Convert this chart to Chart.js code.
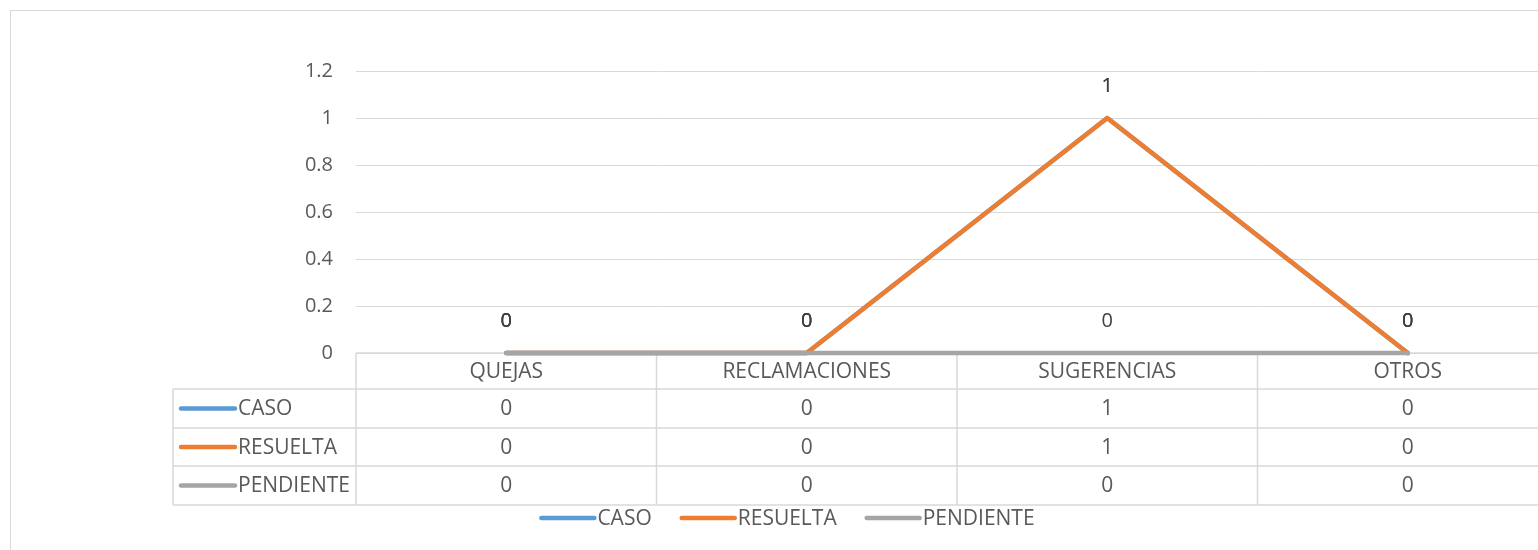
<!DOCTYPE html>
<html>
<head>
<meta charset="utf-8">
<script src="https://cdn.jsdelivr.net/npm/chart.js@4"></script>
<style>
  html, body { margin: 0; padding: 0; background: #fff; overflow: hidden; }
  #frame { position: absolute; left: 10px; top: 10px; width: 1570px; height: 560px; border: 1px solid #d9d9d9; }
  canvas { display: block; }
</style>
</head>
<body>
<div id="frame"><canvas id="chart" width="1570" height="560"></canvas></div>
<script>
// data
const categories = ["QUEJAS", "RECLAMACIONES", "SUGERENCIAS", "OTROS"];
const seriesNames = ["CASO", "RESUELTA", "PENDIENTE"];
const caso = [0, 0, 1, 0];
const resuelta = [0, 0, 1, 0];
const pendiente = [0, 0, 0, 0];
const colors = ["#5b9bd5", "#ed7d31", "#a5a5a5"];

const FONT = "'Open Sans', sans-serif";
const TEXT = "#595959";
const LINE = "#d9d9d9";

function sample(ctx, x1, x2, y, color) {
  ctx.save();
  ctx.strokeStyle = color;
  ctx.lineWidth = 4.5;
  ctx.lineCap = "round";
  ctx.beginPath();
  ctx.moveTo(x1, y);
  ctx.lineTo(x2, y);
  ctx.stroke();
  ctx.restore();
}

// data table under the plot (excel style)
const tablePlugin = {
  id: "table",
  beforeDatasetsDraw(chart) {
    const { ctx, chartArea, scales } = chart;
    const xs = scales.x;
    const B = chartArea.bottom;
    const step = xs.getPixelForValue(1) - xs.getPixelForValue(0);
    const colLeft = chartArea.left - 183;
    const rows = [caso, resuelta, pendiente];
    const lines = [B, B + 36, B + 75, B + 113, B + 152];
    const right = chart.width;

    ctx.save();
    ctx.strokeStyle = LINE;
    ctx.lineWidth = 1.5;
    ctx.beginPath();
    ctx.moveTo(chartArea.left, B);
    ctx.lineTo(right, B);
    for (let i = 1; i < lines.length; i++) {
      ctx.moveTo(colLeft, lines[i]);
      ctx.lineTo(right, lines[i]);
    }
    ctx.moveTo(colLeft, lines[1]);
    ctx.lineTo(colLeft, lines[4]);
    for (let i = 0; i <= categories.length; i++) {
      const x = xs.getPixelForValue(i) - step / 2;
      ctx.moveTo(x, B);
      ctx.lineTo(x, lines[4]);
    }
    ctx.stroke();

    ctx.font = "21px " + FONT;
    ctx.fillStyle = TEXT;
    ctx.textAlign = "center";
    ctx.textBaseline = "middle";
    categories.forEach((c, i) => {
      ctx.fillText(c, xs.getPixelForValue(i), (lines[0] + lines[1]) / 2 + 1);
    });
    rows.forEach((vals, r) => {
      const y = (lines[r + 1] + lines[r + 2]) / 2 + 1;
      vals.forEach((v, i) => {
        ctx.fillText(String(v), xs.getPixelForValue(i), y);
      });
    });
    ctx.textAlign = "left";
    seriesNames.forEach((n, r) => {
      const y = (lines[r + 1] + lines[r + 2]) / 2;
      sample(ctx, colLeft + 8, colLeft + 62, y, colors[r]);
      ctx.fillText(n, colLeft + 65, y + 1);
    });

    // legend below the table
    const ly = B + 165;
    const gap = 28;
    const widths = seriesNames.map((n) => 58 + ctx.measureText(n).width);
    const total = widths.reduce((a, b) => a + b, 0) + gap * (widths.length - 1);
    let x = 776 - total / 2;
    seriesNames.forEach((n, r) => {
      sample(ctx, x + 2, x + 55, ly, colors[r]);
      ctx.fillText(n, x + 58, ly + 1);
      x += widths[r] + gap;
    });
    ctx.restore();
  },
  afterDatasetsDraw(chart) {
    const { ctx } = chart;
    ctx.save();
    ctx.font = "20px " + FONT;
    ctx.fillStyle = "#404040";
    ctx.textAlign = "center";
    ctx.textBaseline = "middle";
    chart.data.datasets.forEach((ds, d) => {
      const meta = chart.getDatasetMeta(d);
      meta.data.forEach((pt, i) => {
        ctx.fillText(String(ds.data[i]), pt.x, pt.y - 32);
      });
    });
    ctx.restore();
  },
};

new Chart(document.getElementById("chart"), {
  type: "line",
  data: {
    labels: categories,
    datasets: [
      { label: seriesNames[0], data: caso, borderColor: colors[0], order: 3 },
      { label: seriesNames[1], data: resuelta, borderColor: colors[1], order: 2 },
      { label: seriesNames[2], data: pendiente, borderColor: colors[2], order: 1 },
    ].map((d) => ({
      ...d,
      borderWidth: 4.5,
      pointRadius: 0,
      borderCapStyle: "round",
      borderJoinStyle: "round",
      tension: 0,
      clip: false,
    })),
  },
  options: {
    responsive: false,
    animation: false,
    events: [],
    layout: { padding: { top: 60, bottom: 218, left: 0, right: 23 } },
    plugins: { legend: { display: false }, tooltip: { enabled: false } },
    scales: {
      x: { display: false, offset: true },
      y: {
        min: 0,
        max: 1.2,
        ticks: {
          stepSize: 0.2,
          padding: 23,
          color: TEXT,
          font: { family: FONT, size: 20 },
          callback: (v) => String(Number(v.toFixed(1))),
        },
        grid: { color: LINE, lineWidth: 1, drawTicks: false },
        border: { display: false },
        afterFit: (s) => { s.width = 345; },
      },
    },
  },
  plugins: [tablePlugin],
});
</script>
</body>
</html>
